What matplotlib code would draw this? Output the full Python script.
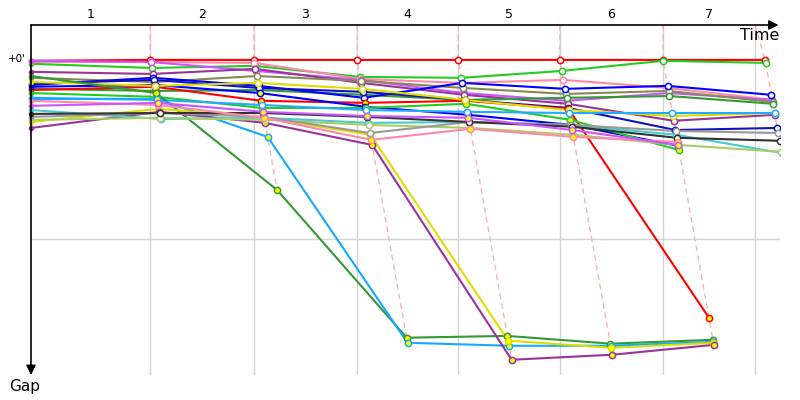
import matplotlib
matplotlib.use("Agg")
import matplotlib.pyplot as plt

# leader cumulative time at each lap (s), lap 0 = start
leader_time = [0, 224, 419, 613, 803, 994, 1188, 1380]
# vertical grid / lap boundaries (s)
lap_grid = [224, 419, 613, 803, 994, 1188, 1361]
lap_labels = ["1", "2", "3", "4", "5", "6", "7"]

# gap to leader (s) after each lap, per car
colors = ["#ff0000", "#22cc22", "#ff88aa", "#cc55ff", "#993399", "#888855",
          "#339933", "#0000ff", "#1111bb", "#ff0000", "#0000ff", "#22cc22",
          "#dddd00", "#22aaff", "#339933", "#11aaff", "#dddd00", "#993399",
          "#44cccc", "#aacc66", "#999999", "#333333", "#ff88aa", "#cc55ff"]
fills = ["white", "white", "white", "white", "white", "white",
         "white", "white", "white", "yellow", "yellow", "yellow",
         "white", "white", "yellow", "yellow", "yellow", "yellow",
         "white", "white", "white", "white", "yellow", "yellow"]
gaps = [
    [0.3, 0, 0, 0, 0, 0, 0, 0],
    [1.3, 2.7, 2.0, 5.7, 6.0, 3.7, 0.3, 1.0],
    [0.7, 0.7, 1.0, 6.4, 7.7, 6.7, 9.4, 13.4],
    [0.3, 0.7, 3.7, 6.7, 11.1, 13.7, 11.1, 13.4],
    [4.0, 4.7, 3.0, 7.7, 11.7, 14.7, 20.4, 18.4],
    [6.0, 7.4, 5.4, 7.0, 9.4, 11.4, 10.4, 14.1],
    [9.7, 10.4, 10.1, 11.7, 13.4, 12.7, 12.1, 14.7],
    [8.4, 6.0, 8.7, 12.7, 7.7, 9.7, 8.7, 11.7],
    [8.0, 6.7, 9.4, 10.7, 13.4, 16.1, 23.5, 22.8],
    [10.1, 9.0, 13.7, 14.4, 13.7, 16.4, 86.4],
    [9.0, 8.4, 11.1, 15.7, 18.4, 21.8, 28.8],
    [11.1, 12.4, 16.1, 16.1, 14.7, 20.1, 30.2],
    [7.4, 8.7, 7.7, 9.7, 13.4, 16.8, 18.8, 17.8],
    [12.7, 13.4, 15.1, 16.8, 17.4, 17.8, 17.8, 17.8],
    [5.4, 11.1, 43.6, 93.1, 92.5, 95.1, 93.8],
    [13.1, 13.1, 25.8, 94.8, 95.8, 95.8, 94.5],
    [20.8, 16.4, 19.4, 25.1, 94.1, 96.5, 94.8],
    [22.8, 17.4, 21.1, 28.5, 100.5, 98.8, 95.5],
    [16.8, 19.8, 19.4, 21.1, 20.8, 21.8, 25.1, 31.2],
    [20.1, 19.4, 20.1, 21.8, 22.8, 25.1, 28.5, 30.8],
    [19.1, 17.8, 19.1, 24.5, 20.8, 21.8, 23.8, 24.5],
    [18.1, 17.8, 17.8, 19.1, 20.8, 22.4, 26.1, 27.1],
    [13.7, 15.1, 19.4, 26.8, 23.1, 25.8, 27.5],
    [15.4, 14.4, 17.4, 18.8, 19.4, 23.5, 28.5],
]

fig = plt.figure(figsize=(8, 4), dpi=100)
ax = fig.add_axes([31 / 800, 0.0625, 749 / 800, 0.875])
x_max = 1408
y_top, y_bot = -11.7, 105.6
ax.set_xlim(0, x_max)
ax.set_ylim(y_bot, y_top)
ax.axis("off")

# grid
for g in lap_grid:
    ax.plot([g, g], [y_top, y_bot], color="#d4d4d4", lw=1, zorder=0)
ax.plot([0, x_max], [60, 60], color="#d4d4d4", lw=1, zorder=0)

# pink lap lines through each lap's markers
for lap in range(1, 8):
    lap_gaps = [gp[lap] for gp in gaps if len(gp) > lap]
    gmax = max(lap_gaps)
    t = leader_time[lap]
    ax.plot([lap_grid[lap - 1], t, t + gmax], [y_top, 0, gmax],
            color="#ffb0b0", lw=1, ls=(0, (4, 3)), zorder=1)

# cars
for c, f, gp in zip(colors, fills, gaps):
    xs = [leader_time[i] + gp[i] if i > 0 else 0 for i in range(len(gp))]
    ax.plot(xs, gp, color=c, lw=1.5, zorder=2, solid_joinstyle="round")
    ax.plot(xs[1:], gp[1:], ls="none", marker="o", ms=4.5, mfc=f, mec=c,
            mew=1.1, zorder=3)
    ax.plot(xs[0], gp[0], ls="none", marker="o", ms=3, mfc=c, mec=c,
            zorder=3, clip_on=False)

# axes arrows
ax.annotate("", xy=(0.998, 1.0), xytext=(0, 1.0), xycoords="axes fraction",
            arrowprops=dict(arrowstyle="-|>", color="black", lw=1.2,
                            mutation_scale=14, shrinkA=0, shrinkB=0))
ax.annotate("", xy=(0, 0.0), xytext=(0, 1.0), xycoords="axes fraction",
            arrowprops=dict(arrowstyle="-|>", color="black", lw=1.2,
                            mutation_scale=14, shrinkA=0, shrinkB=0))
fig.text(760 / 800, 1 - 35 / 400, "Time", ha="center", va="center", fontsize=11.5)
fig.text(25 / 800, 1 - 386 / 400, "Gap", ha="center", va="center", fontsize=11)
fig.text(8 / 800, 1 - 59 / 400, "+0'", ha="left", va="center", fontsize=7.5)

bounds = [0] + lap_grid
for i, lab in enumerate(lap_labels):
    ax.text((bounds[i] + bounds[i + 1]) / 2, y_top - 1.5, lab, ha="center",
            va="bottom", fontsize=9)

fig.savefig("out.png", dpi=100)
